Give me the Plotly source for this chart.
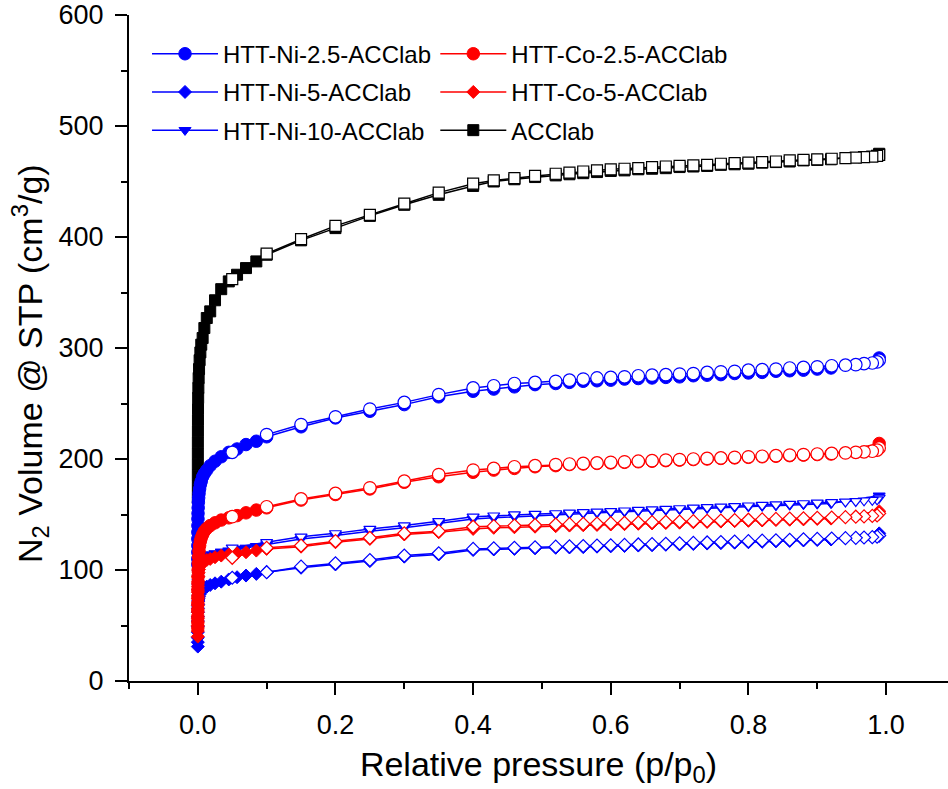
import plotly.graph_objects as go

# Relative pressure grids (adsorption branch / desorption branch)
P_ADS = [0.000002, 0.000005, 0.00001, 0.00002, 0.00004, 0.00007, 0.00012, 0.0002, 0.0003, 0.0005,
         0.0008, 0.0012, 0.0018, 0.0026, 0.0037, 0.005, 0.007, 0.0095, 0.013, 0.018,
         0.025, 0.034, 0.045, 0.057, 0.07, 0.085,
         0.1, 0.15, 0.2, 0.25, 0.3, 0.35, 0.4,
         0.43, 0.46, 0.49, 0.52, 0.54, 0.56, 0.58, 0.6, 0.62, 0.64, 0.66, 0.68, 0.7, 0.72,
         0.74, 0.76, 0.78, 0.8, 0.82, 0.84, 0.86, 0.88, 0.9, 0.92, 0.99]
P_DES = [0.99, 0.987, 0.98, 0.968, 0.956, 0.941, 0.921, 0.9, 0.88, 0.86, 0.84, 0.82, 0.8, 0.78,
         0.76, 0.74, 0.72, 0.7, 0.68, 0.66, 0.64, 0.62, 0.6, 0.58, 0.56, 0.54, 0.52, 0.49,
         0.46, 0.43, 0.4, 0.35, 0.3, 0.25, 0.2, 0.15, 0.1, 0.05]

ACC_ADS = [165, 175, 185, 195, 205, 215, 225, 235, 245, 255, 264, 273, 281, 289, 296, 303, 309, 318,
           327, 333, 343, 353, 360, 366, 372, 378,
           384, 397, 408, 419, 429, 438, 446,
           450, 452, 454, 455.5, 456.5, 457.5, 458.5, 459.5, 460, 461, 461.5, 462, 463, 463.5,
           464, 465, 465.5, 466, 467, 467.5, 468, 469, 469.5, 470, 475]
ACC_DES = [474, 473, 472.5, 472, 471.5, 471, 470.5, 470, 469.5, 469, 468, 467.5, 467, 466.5, 466,
           465, 464.5, 464, 463.5, 463, 462, 461.5, 461, 460, 459, 458, 457, 455, 453, 451, 448,
           440, 430, 420, 410, 398, 385, 362]

NI25_ADS = [105, 110, 116, 122, 128, 134, 140, 146, 151, 156, 161, 165, 169, 173, 177, 180, 184, 187,
            190, 194, 198, 202, 206, 209, 213, 216,
            220, 229, 237, 243, 249, 256, 261,
            263, 265, 267, 268, 269, 270, 270.5, 271, 272, 272.5, 273, 273.5, 274, 275, 275.5,
            276, 277, 277.5, 278, 279, 279.5, 280, 281, 282, 291]
NI25_DES = [289, 287.5, 286.5, 286, 285, 284.5, 284, 283, 282.5, 282, 281, 280.5, 280, 279, 278.5,
            278, 277, 276.5, 276, 275.5, 275, 274, 273.5, 273, 272, 271, 270, 269, 268, 266, 264,
            258, 251, 245, 238, 231, 222, 206]

CO25_ADS = [48, 53, 58, 64, 70, 76, 82, 88, 94, 100, 106, 112, 117, 122, 126, 129, 132, 135, 137.5,
            140, 142.5, 145, 147, 149, 151.5, 154,
            156, 163, 168, 173, 179, 184, 188,
            190, 191.5, 193, 194, 195, 195.5, 196, 196.5, 197, 197.5, 198, 198.5, 199, 199.5, 200,
            200.5, 201, 201.5, 202, 202.5, 203, 203.5, 204, 204.5, 214]
CO25_DES = [210, 208, 207, 206.5, 206, 205.5, 205, 204.5, 204, 203.5, 203, 202.5, 202, 201.5, 201,
            200.5, 200, 199.5, 199, 198.5, 198, 197.5, 197, 196.5, 196, 195.5, 195, 194, 193, 191.5,
            190, 186, 180, 174, 169, 164, 157, 148]

NI10_ADS = [55, 60, 65, 70, 75, 80, 85, 89, 93, 97, 100, 103, 105, 107, 108.5, 110, 111, 112, 113,
            114, 115, 116.5, 117.5, 118.5, 120, 121.5,
            123, 128, 131, 135, 138, 142, 146,
            147, 148, 149, 150, 150.5, 151, 151.5, 152, 152.5, 153, 153.5, 154, 154.5, 155, 155.5,
            156, 156.5, 157, 157.5, 158, 158.5, 159, 159.5, 160, 167]
NI10_DES = [165, 163.5, 163, 162.5, 162, 161.5, 161, 160.5, 160, 159.5, 159, 158.5, 158, 157.5, 157,
            156.5, 156, 155.5, 155, 154.5, 154, 153.5, 153, 152.5, 152, 151.5, 151, 150.5, 150, 149,
            148, 144, 140, 137, 133, 130, 125, 120]

CO5_ADS = [40, 45, 50, 56, 62, 68, 74, 80, 85, 90, 94, 97.5, 100.5, 103, 105, 106, 107, 108, 109,
           110, 111.5, 113, 114, 115, 116, 117.5,
           119, 121, 125, 128, 132, 134, 137,
           138, 138.5, 139, 139.5, 140, 140.3, 140.6, 141, 141.3, 141.6, 142, 142.3, 142.6, 143,
           143.3, 143.6, 144, 144.3, 144.6, 145, 145.3, 145.6, 146, 146.3, 153]
CO5_DES = [151, 149.2, 148.7, 148.3, 148, 147.6, 147.3, 147, 146.6, 146.3, 146, 145.6, 145.3, 145,
           144.6, 144.3, 144, 143.7, 143.4, 143.1, 142.8, 142.5, 142.2, 141.9, 141.6, 141.3, 141,
           140.5, 140, 139.5, 139, 135, 133, 129, 126, 122, 120, 111]

NI5_ADS = [31, 35, 39, 44, 49, 54, 58, 62, 65.5, 69, 72, 74, 76, 78, 79.5, 81, 82.5, 84, 85, 86.5,
           88, 89.5, 91.5, 93.5, 95, 96.5,
           98, 102, 105, 108, 112, 114, 118,
           118.5, 119, 119.5, 120, 120.3, 120.6, 121, 121.3, 121.6, 122, 122.3, 122.7, 123, 123.4,
           123.8, 124.2, 124.6, 125, 125.4, 125.8, 126.2, 126.6, 127, 127.5, 133]
NI5_DES = [131, 130, 129.6, 129.3, 129, 128.7, 128.4, 128, 127.6, 127.2, 126.8, 126.4, 126, 125.6,
           125.2, 124.8, 124.4, 124, 123.6, 123.3, 123, 122.6, 122.3, 122, 121.6, 121.3, 121, 120.5,
           120, 119.5, 119, 115, 113, 109, 106, 103, 98, 93]

NAMES = ["HTT-Ni-2.5-ACClab", "HTT-Ni-5-ACClab", "HTT-Ni-10-ACClab",
         "HTT-Co-2.5-ACClab", "HTT-Co-5-ACClab", "ACClab"]
X_TITLE = "Relative pressure (p/p<sub>0</sub>)"
Y_TITLE = "N<sub>2</sub> Volume @ STP (cm<sup>3</sup>/g)"

BLUE = "#0000FF"
RED = "#FF0000"
BLACK = "#000000"
FONT = "Liberation Sans, Arial, sans-serif"

series = [
    # name, ads, des, color, symbol, size, legend
    (NAMES[5], ACC_ADS, ACC_DES, BLACK, "square", 11, "legend2"),
    (NAMES[0], NI25_ADS, NI25_DES, BLUE, "circle", 12.5, "legend"),
    (NAMES[1], NI5_ADS, NI5_DES, BLUE, "diamond", 10, "legend"),
    (NAMES[2], NI10_ADS, NI10_DES, BLUE, "triangle-down", 10.5, "legend"),
    (NAMES[3], CO25_ADS, CO25_DES, RED, "circle", 12.5, "legend2"),
    (NAMES[4], CO5_ADS, CO5_DES, RED, "diamond", 10, "legend2"),
]
legend_rank = {NAMES[0]: 1, NAMES[1]: 2, NAMES[2]: 3, NAMES[3]: 1, NAMES[4]: 2, NAMES[5]: 3}

fig = go.Figure()
for name, ads, des, col, sym, sz, leg in series:
    fig.add_trace(go.Scatter(
        x=P_ADS, y=ads, mode="lines+markers", name=name, legend=leg,
        legendgroup=name, legendrank=legend_rank[name],
        line=dict(color=col, width=1.5),
        marker=dict(symbol=sym, size=sz, color=col, line=dict(color=col, width=1)),
    ))
    fig.add_trace(go.Scatter(
        x=P_DES, y=des, mode="lines+markers", name=name + " (des)", showlegend=False,
        legendgroup=name, legend=leg,
        line=dict(color=col, width=1.5),
        marker=dict(symbol=sym, size=sz, color="white", line=dict(color=col, width=1.2)),
    ))

axis_common = dict(
    showline=True, linecolor="black", linewidth=2.2, mirror=False,
    ticks="outside", ticklen=12, tickwidth=2, tickcolor="black",
    showgrid=False, zeroline=False,
    tickfont=dict(family=FONT, size=27, color="black"),
)

fig.update_xaxes(
    range=[-0.1, 1.09], tick0=0, dtick=0.2, tickformat=".1f", ticklabelstandoff=6,
    minor=dict(ticks="outside", dtick=0.1, tick0=0, ticklen=6, tickwidth=2, tickcolor="black"),
    title=dict(text=X_TITLE, font=dict(family=FONT, size=34, color="black"), standoff=14),
    **axis_common,
)
fig.update_yaxes(
    range=[0, 600], tick0=0, dtick=100, ticklabelstandoff=6,
    minor=dict(ticks="outside", dtick=50, tick0=0, ticklen=6, tickwidth=2, tickcolor="black"),
    **axis_common,
)

# y-axis title placed as a rotated annotation to match the reference position
fig.add_annotation(
    text=Y_TITLE, textangle=-90, showarrow=False,
    xref="paper", yref="paper", x=0, y=0.476, xshift=-99,
    xanchor="center", yanchor="middle",
    font=dict(family=FONT, size=34, color="black"),
)

legend_common = dict(
    font=dict(family=FONT, size=24, color="black"),
    bgcolor="rgba(0,0,0,0)", borderwidth=0, itemwidth=66,
    tracegroupgap=4, xanchor="left", yanchor="top", itemclick=False,
)
fig.update_layout(
    width=948, height=789,
    margin=dict(l=129, r=0, t=15, b=108),
    plot_bgcolor="white", paper_bgcolor="white",
    showlegend=True,
    legend=dict(x=0.022, y=0.975, **legend_common),
    legend2=dict(x=0.374, y=0.975, **legend_common),
)

fig.write_html("out.html", config={"displayModeBar": False},
               post_script="document.body.style.margin='0';document.body.style.overflow='hidden';")
